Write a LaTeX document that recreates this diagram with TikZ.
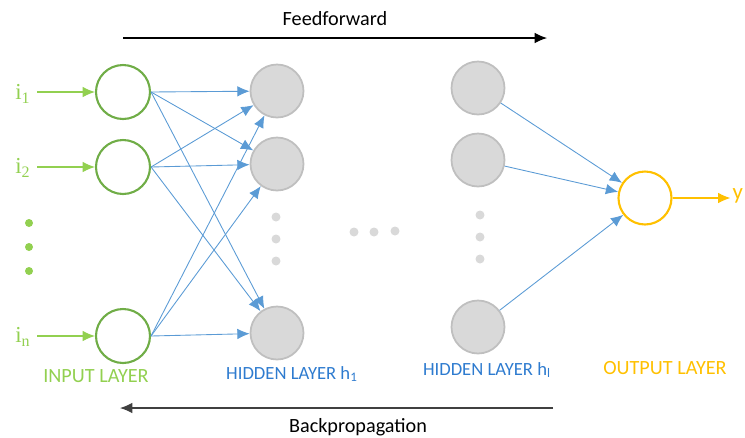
\documentclass[tikz,border=0pt]{standalone}
\usepackage{fontspec}
\setmainfont{Carlito}
\newfontfamily\labelfont{Liberation Serif}
\usetikzlibrary{arrows.meta}
\definecolor{ingreen}{HTML}{70AD47}
\definecolor{lightgreen}{HTML}{92D050}
\definecolor{hidblue}{HTML}{5B9BD5}
\definecolor{hidtext}{HTML}{2E7BCF}
\definecolor{outyellow}{HTML}{FFC000}
\definecolor{hidgray}{HTML}{D9D9D9}
\definecolor{hidedge}{HTML}{BFBFBF}
\tikzset{
  inneuron/.style={circle, draw=ingreen, line width=1.2pt, inner sep=0pt, minimum size=1.08cm},
  hidneuron/.style={circle, draw=hidedge, fill=hidgray, line width=1pt, inner sep=0pt, minimum size=1.06cm},
  outneuron/.style={circle, draw=outyellow, line width=1.2pt, inner sep=0pt, minimum size=1.06cm},
  weight/.style={draw=hidblue, line width=0.5pt, -{Latex[length=7pt,width=6pt]}},
  inarrow/.style={draw=lightgreen, line width=0.6pt, -{Latex[length=7pt,width=6pt]}},
  inlabel/.style={text=lightgreen, font=\labelfont\fontsize{13}{14}\selectfont},
  layertext/.style={font=\fontsize{11.5}{13}\selectfont},
  hidlayertext/.style={font=\fontsize{10.6}{12}\selectfont, text=hidtext},
  flow/.style={draw=black, line width=0.6pt, -{Latex[length=7pt,width=6pt]}}
}
\begin{document}
\begin{tikzpicture}[x=0.02cm, y=-0.02cm]
      \useasboundingbox (0, 0) rectangle (745, 437);
      % input layer
      \node[inneuron] (in1) at (123, 92) {};
      \node[inneuron] (in2) at (123, 167) {};
      \node[inneuron] (inn) at (123, 336) {};
      \node[inlabel] (x1) at (23, 94) {i\textsubscript{1}};
      \node[inlabel] (x2) at (23, 168) {i\textsubscript{2}};
      \node[inlabel] (xn) at (23, 337) {i\textsubscript{n}};
      \coordinate (s1) at (37, 92);
      \coordinate (s2) at (37, 167);
      \coordinate (sn) at (37, 336);
      \draw[inarrow] (s1) -- (in1.west);
      \draw[inarrow] (s2) -- (in2.west);
      \draw[inarrow] (sn) -- (inn.west);
      \path[fill=lightgreen] (29, 223) circle[radius=4];
      \path[fill=lightgreen] (29, 247) circle[radius=4];
      \path[fill=lightgreen] (29, 271) circle[radius=4];
      % hidden layer h1
      \node[hidneuron] (ha1) at (277, 91) {};
      \node[hidneuron] (ha2) at (277, 164) {};
      \node[hidneuron] (han) at (277, 333) {};
      \path[fill=hidgray] (276, 217) circle[radius=4.5];
      \path[fill=hidgray] (276, 239) circle[radius=4.5];
      \path[fill=hidgray] (276, 261) circle[radius=4.5];
      % hidden layer hl
      \node[hidneuron] (hb1) at (478, 88) {};
      \node[hidneuron] (hb2) at (478, 160) {};
      \node[hidneuron] (hbn) at (478, 327) {};
      \path[fill=hidgray] (480, 215) circle[radius=4.5];
      \path[fill=hidgray] (480, 237) circle[radius=4.5];
      \path[fill=hidgray] (480, 259) circle[radius=4.5];
      \path[fill=hidgray] (354, 232) circle[radius=4.5];
      \path[fill=hidgray] (374, 232) circle[radius=4.5];
      \path[fill=hidgray] (395, 231) circle[radius=4.5];
      % output layer
      \node[outneuron] (out) at (645, 198) {};
      \node[text=outyellow, font=\fontsize{13}{14}\selectfont, anchor=east, inner sep=1pt] (y) at (745, 196) {y};
      \draw[draw=outyellow, line width=0.6pt, -{Latex[length=7pt,width=6pt]}] (out.east) -- (out.east -| y.west);
      % weights
      \draw[weight] (in1.east) -- (ha1);
      \draw[weight] (in1.east) -- (ha2);
      \draw[weight] (in1.east) -- (han);
      \draw[weight] (in2.east) -- (ha1);
      \draw[weight] (in2.east) -- (ha2);
      \draw[weight] (in2.east) -- (han);
      \draw[weight] (inn.east) -- (ha1);
      \draw[weight] (inn.east) -- (ha2);
      \draw[weight] (inn.east) -- (han);
      \draw[weight] (hb1) -- (out);
      \draw[weight] (hb2) -- (out);
      \draw[weight] (hbn) -- (out);
      % layer names
      \node[layertext, text=lightgreen] (inlabel) at (96, 376) {INPUT LAYER};
      \node[hidlayertext] (h1label) at (292, 374) {HIDDEN LAYER h\textsubscript{1}};
      \node[hidlayertext] (hllabel) at (487, 370) {HIDDEN LAYER h\textsubscript{l}};
      \node[layertext, text=outyellow] (outlabel) at (665, 368) {OUTPUT LAYER};
      % directions
      \coordinate (ffa) at (123, 38);
      \coordinate (ffb) at (547, 38);
      \draw[flow] (ffa) -- (ffb);
      \node[layertext] (fftext) at (335, 19) {Feedforward};
      \coordinate (bpa) at (553, 408);
      \coordinate (bpb) at (120, 408);
      \draw[flow, draw=black!75] (bpa) -- (bpb);
      \node[layertext] (bptext) at (358, 427) {Backpropagation};
    \end{tikzpicture}
\end{document}
